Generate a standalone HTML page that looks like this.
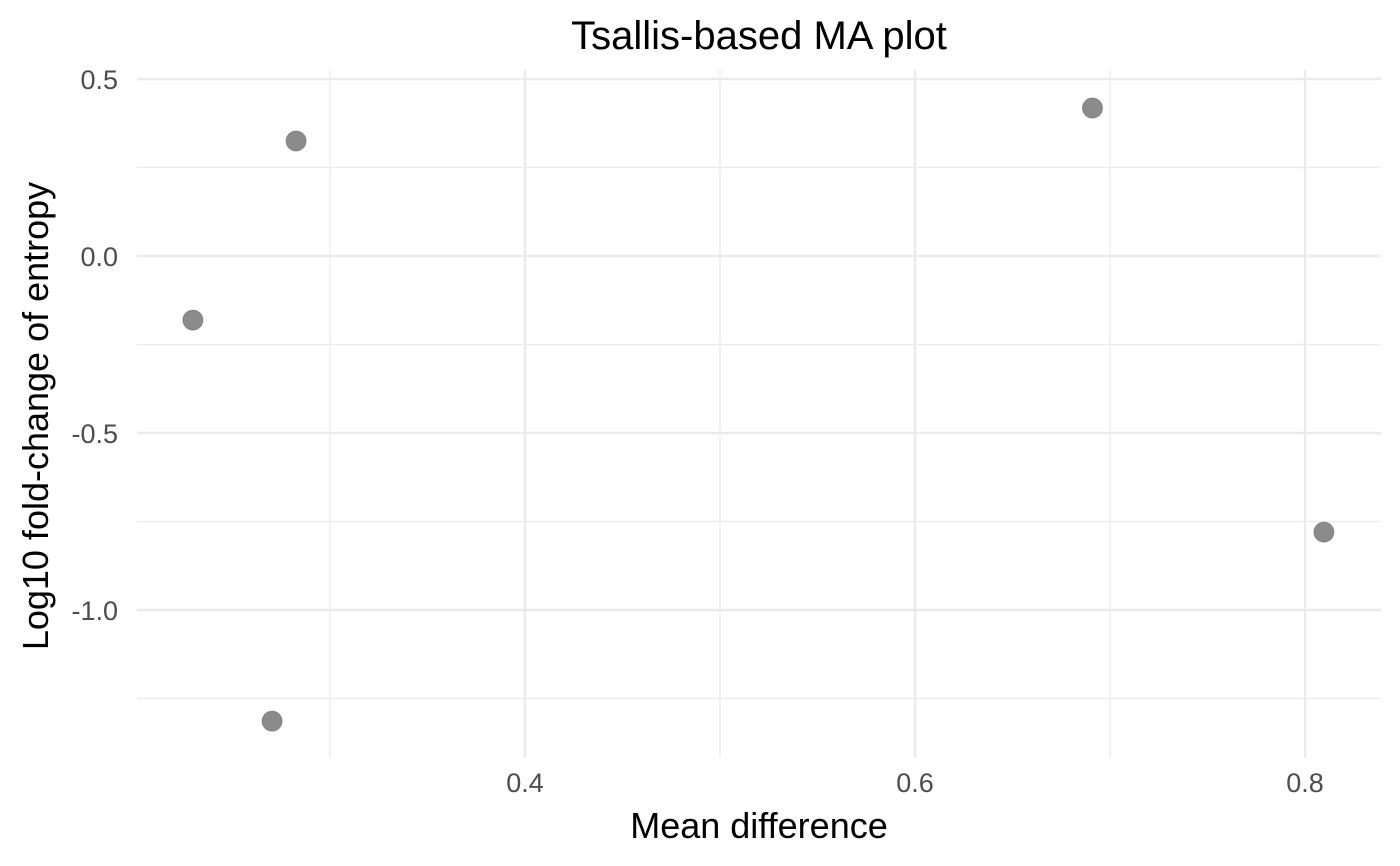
<!DOCTYPE html>
<html><head><meta charset="utf-8"><style>
body{margin:0;background:#fff;}
svg{display:block;font-family:"Liberation Sans",sans-serif;}
</style></head><body>
<svg id="chart" width="1400" height="866">
<rect width="1400" height="866" fill="#fff"/>
<g id="grid"></g><g id="ticks"></g><g id="points"></g>
<text x="759" y="49" text-anchor="middle" font-size="40" fill="#000">Tsallis-based MA plot</text>
<text x="759" y="838" text-anchor="middle" font-size="36" fill="#000">Mean difference</text>
<text transform="translate(48,416) rotate(-90)" text-anchor="middle" font-size="36" fill="#000">Log10 fold-change of entropy</text>
</svg>
<script>
const xValues=[0.2297,0.2826,0.2703,0.691,0.8097];
const yValues=[-0.181,0.325,-1.314,0.418,-0.780];
const xTicks=[0.4,0.6,0.8];
const xMinor=[0.3,0.5,0.7];
const yTicks=[0.5,0.0,-0.5,-1.0];
const yMinor=[0.25,-0.25,-0.75,-1.25];
const yTickLabels=["0.5","0.0","-0.5","-1.0"];
const X=v=>-255+v*1950, Y=v=>256-v*354;
const L=137,R=1381,T=70,B=758,ns="http://www.w3.org/2000/svg";
const g=document.getElementById('grid'),tk=document.getElementById('ticks'),pt=document.getElementById('points');
function line(x1,y1,x2,y2,w){const l=document.createElementNS(ns,'line');l.setAttribute('x1',x1);l.setAttribute('y1',y1);l.setAttribute('x2',x2);l.setAttribute('y2',y2);l.setAttribute('stroke','#ebebeb');l.setAttribute('stroke-width',w);g.appendChild(l);return l;}
function text(x,y,s,a){const t=document.createElementNS(ns,'text');t.setAttribute('x',x);t.setAttribute('y',y);t.setAttribute('text-anchor',a);t.setAttribute('font-size','27');t.setAttribute('fill','#4d4d4d');t.textContent=s;tk.appendChild(t);return t;}
xMinor.forEach(v=>{const l=line(X(v),T,X(v),B,1.2);

});
yMinor.forEach(v=>{const l=line(L,Y(v),R,Y(v),1.2);

});
xTicks.forEach(v=>{const l=line(X(v),T,X(v),B,2.4);


const t=text(X(v),792,v.toFixed(1),'middle');

});
yTicks.forEach((v,i)=>{const l=line(L,Y(v),R,Y(v),2.4);


const t=text(118,Y(v)+10,yTickLabels[i],'end');

});
xValues.forEach((v,i)=>{const c=document.createElementNS(ns,'circle');c.setAttribute('cx',X(v));c.setAttribute('cy',Y(yValues[i]));c.setAttribute('r','10');c.setAttribute('fill','#5a5a5a');c.setAttribute('fill-opacity','0.7');c.setAttribute('stroke','#5a5a5a');c.setAttribute('stroke-opacity','0.5');


pt.appendChild(c);});
</script>
</body></html>
